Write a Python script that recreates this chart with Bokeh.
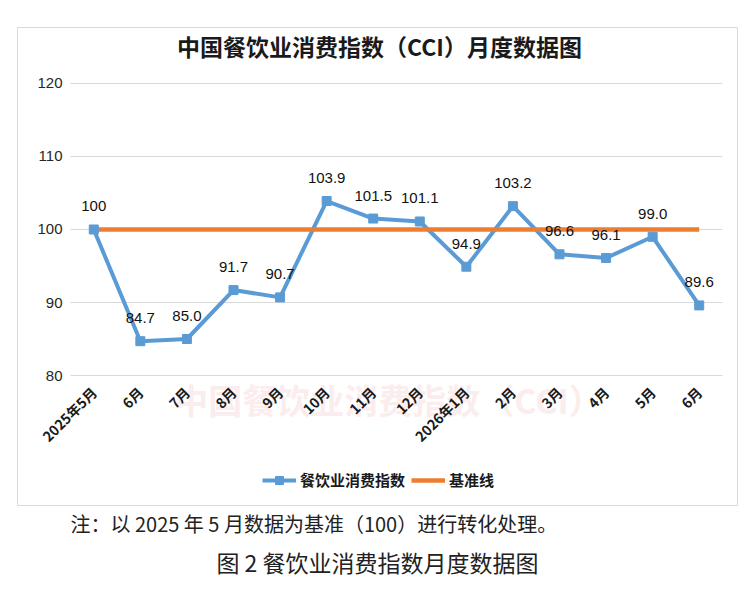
import math
from bokeh.plotting import figure
from bokeh.models import (ColumnDataSource, FixedTicker, Range1d, Label, Legend,
                          LegendItem, Title)
from bokeh.core.properties import value
from bokeh.embed import file_html
from bokeh.resources import INLINE

# ---- data ----
months = ["2025年5月", "6月", "7月", "8月", "9月", "10月", "11月", "12月",
          "2026年1月", "2月", "3月", "4月", "5月", "6月"]
cci = [100, 84.7, 85.0, 91.7, 90.7, 103.9, 101.5, 101.1, 94.9, 103.2, 96.6, 96.1, 99.0, 89.6]
cci_labels = ["100", "84.7", "85.0", "91.7", "90.7", "103.9", "101.5", "101.1",
              "94.9", "103.2", "96.6", "96.1", "99.0", "89.6"]
baseline = [100, 100, 100, 100, 100, 100, 100, 100, 100, 100, 100, 100, 100, 100]
y_ticks = [80, 90, 100, 110, 120]
title_text = "中国餐饮业消费指数（CCI）月度数据图"
watermark_text = "中国餐饮业消费指数（CCI）"
legend_names = ["餐饮业消费指数", "基准线"]
note_text = "注：以 2025 年 5 月数据为基准（100）进行转化处理。"
caption_text = "图 2 餐饮业消费指数月度数据图"

# ---- styles ----
BLUE = "#5B9BD5"
ORANGE = "#ED7D31"
CJK = "Noto Sans CJK SC"
LAT = "Liberation Sans"

idx = list(range(len(months)))
src = ColumnDataSource(dict(x=idx, y=cci, base=baseline, lab=cci_labels))

# frame = chart box; data area occupies the inner part via the ranges
p = figure(frame_width=720, frame_height=478, output_backend="svg",
           toolbar_location=None,
           x_range=Range1d(-1.638, 13.822), y_range=Range1d(62.192, 127.671),
           min_border_left=17, min_border_right=1, min_border_top=27,
           min_border_bottom=0)
p.outline_line_color = "#d9d9d9"
p.background_fill_color = "white"
p.border_fill_color = "white"

# axes (labels pulled inside the box)
for ax in (p.xaxis[0], p.yaxis[0]):
    ax.axis_line_color = None
    ax.major_tick_line_color = None
    ax.minor_tick_line_color = None
    ax.major_tick_in = 0
    ax.major_tick_out = 0

p.yaxis.ticker = FixedTicker(ticks=y_ticks)
p.yaxis.major_label_standoff = -45
p.yaxis.major_label_text_font = LAT
p.yaxis.major_label_text_font_size = "15px"
p.yaxis.major_label_text_color = "#262626"

p.xaxis.ticker = FixedTicker(ticks=idx)
p.xaxis.major_label_overrides = {i: m for i, m in enumerate(months)}
p.xaxis.major_label_orientation = math.pi / 4
p.xaxis.major_label_standoff = -116
p.xaxis.major_label_text_font = CJK
p.xaxis.major_label_text_font_style = "bold"
p.xaxis.major_label_text_font_size = "14px"
p.xaxis.major_label_text_color = "#1a1a1a"

p.xgrid.grid_line_color = None
p.ygrid.grid_line_color = "#d9d9d9"
p.ygrid.grid_line_width = 1
p.ygrid.cross_bounds = (-0.5, 13.5)

# faint watermark text behind the chart
p.add_layout(Label(x=371, y=106, x_units="screen", y_units="screen",
                   text=watermark_text, text_align="center", text_baseline="middle",
                   text_font=CJK, text_font_style="bold", text_font_size="34px",
                   text_color="#fbeded", level="underlay"))

# series
l1 = p.line("x", "y", source=src, line_color=BLUE, line_width=4)
l2 = p.line("x", "base", source=src, line_color=ORANGE, line_width=4.5)
s1 = p.scatter("x", "y", source=src, marker="square", size=9,
               fill_color=BLUE, line_color=BLUE)
p.text("x", "y", text="lab", source=src, y_offset=-23, text_align="center",
       text_baseline="middle", text_font=value(LAT), text_font_size="15px",
       text_color="#111111")

# legend
legend = Legend(items=[LegendItem(label=legend_names[0], renderers=[l1, s1]),
                       LegendItem(label=legend_names[1], renderers=[l2])],
                location=(245, 15), orientation="horizontal",
                glyph_width=34, glyph_height=20, label_standoff=4, spacing=6,
                padding=0, margin=0, border_line_color=None,
                background_fill_alpha=0, label_text_font=CJK,
                label_text_font_style="bold", label_text_font_size="15px",
                label_text_color="#1a1a1a")
p.add_layout(legend)

# chart title inside the box
p.add_layout(Label(x=362, y=460, x_units="screen", y_units="screen", text=title_text,
                   text_align="center", text_baseline="middle", text_font=CJK,
                   text_font_style="bold", text_font_size="23px", text_color="#1a1a1a"))

# note and caption below the box
p.add_layout(Title(text=note_text, align="left", offset=53, standoff=3,
                   text_font=CJK, text_font_style="normal", text_font_size="20px",
                   text_color="#222222"), "below")
p.add_layout(Title(text=caption_text, align="center", offset=25, standoff=7,
                   text_font=CJK, text_font_style="normal", text_font_size="23px",
                   text_color="#222222"), "below")

open("out.html", "w").write(file_html(p, INLINE))
